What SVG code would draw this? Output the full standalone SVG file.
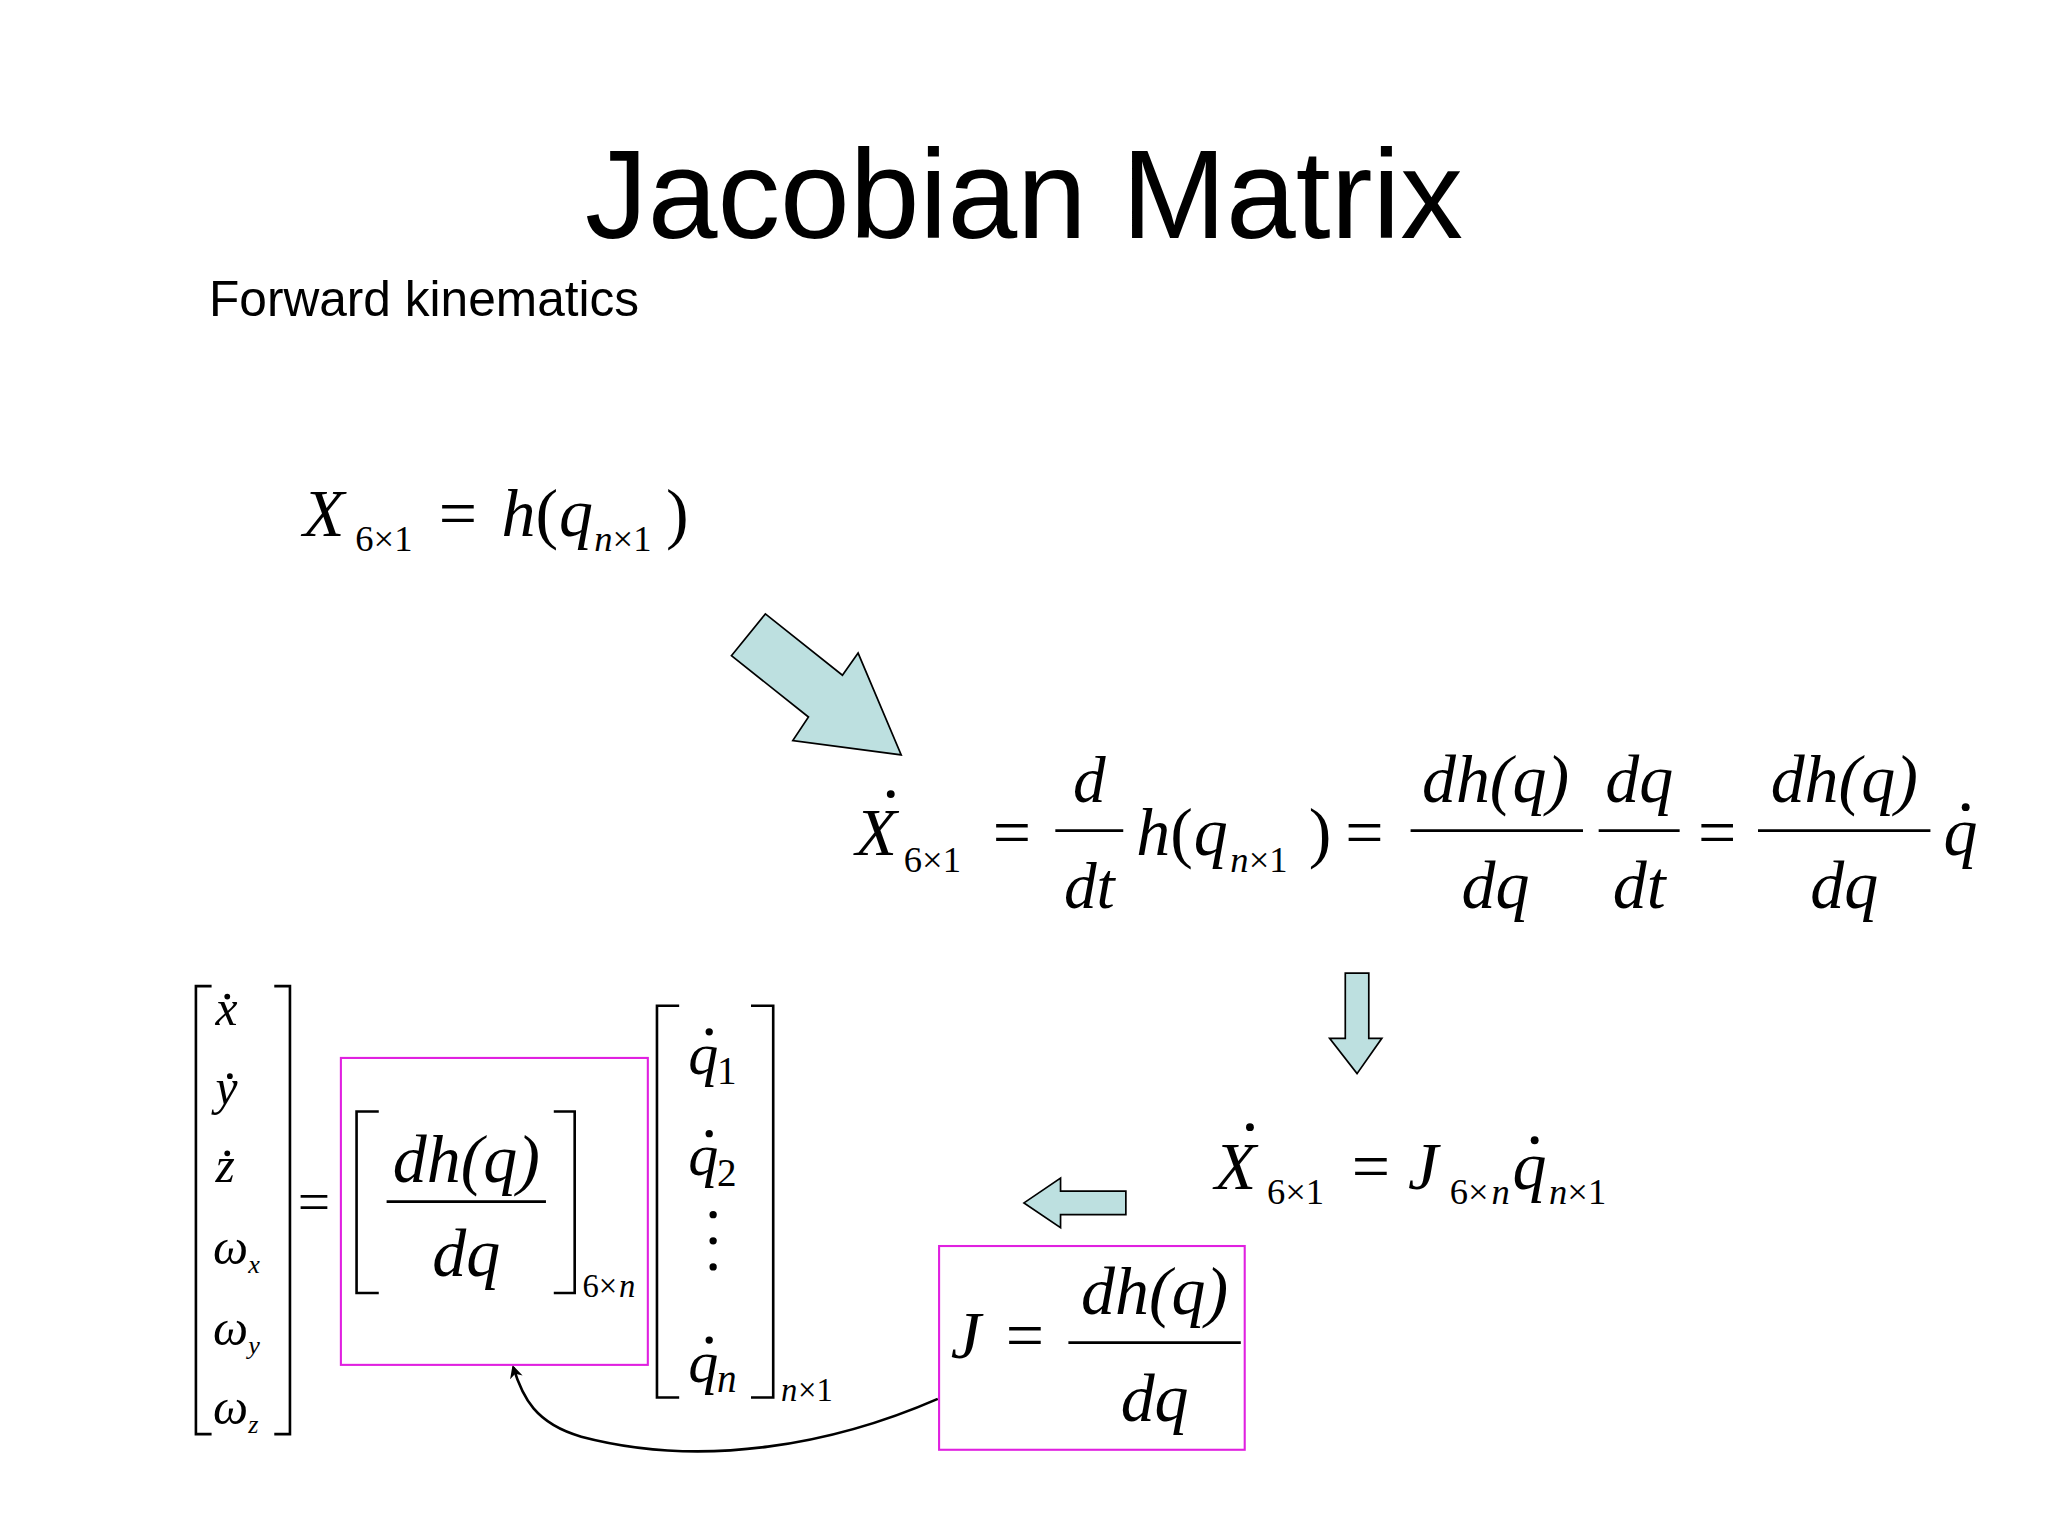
<svg xmlns="http://www.w3.org/2000/svg" width="2048" height="1536" viewBox="0 0 2048 1536">
<style>
.m{font-family:"Liberation Serif","Times New Roman",serif;font-style:italic;fill:#000}
.r{font-family:"Liberation Serif","Times New Roman",serif;fill:#000}
.s{font-family:"Liberation Sans",Arial,sans-serif;fill:#000}
.b{fill:none;stroke:#000;stroke-width:2}
.bar{stroke:#000;stroke-width:2.2}
.box{fill:none;stroke:#e020e0;stroke-width:1.6}
.arr{fill:#bde0e0;stroke:#000;stroke-width:1.3}
</style>
<defs><marker id="ah" markerWidth="10" markerHeight="10" refX="8" refY="5" orient="auto" markerUnits="userSpaceOnUse"><path d="M0,0 L10,5 L0,10 L3,5 Z" fill="#000"/></marker></defs>
<rect width="2048" height="1536" fill="#fff"/>
<g transform="scale(1.3061)">
<g id="title"><text x="784" y="182" text-anchor="middle" class="s" font-size="96">Jacobian Matrix</text>
<text x="160" y="242" class="s" font-size="38">Forward kinematics</text></g>
<g id="eq1">
<text x="232" y="410" class="m" font-size="52">X</text><text x="272" y="422" class="r" font-size="28">6×1</text>
<text x="336" y="410" class="r" font-size="52">=</text>
<text x="384" y="410" class="m" font-size="52">h</text><text x="410" y="410" class="r" font-size="52">(</text><text x="428" y="410" class="m" font-size="52">q</text>
<text x="455" y="422" class="m" font-size="28">n</text><text x="469" y="422" class="r" font-size="28">×1</text><text x="510" y="410" class="r" font-size="52">)</text>
</g>
<g id="connectors">
<polygon class="arr" points="560,502 586,470 645,517 657,500 690,578 607,567 619,549"/>
<polygon class="arr" points="1030,745 1048,745 1048,795 1058,795 1039,822 1018,795 1030,795"/>
<polygon class="arr" points="862,912 862,930 812,930 812,940 784,921 812,902 812,912"/>
<path class="b" d="M718,1071 C640,1105 540,1125 445,1100 C410,1090 400,1070 393,1047" marker-end="url(#ah)"/>
</g>
<g id="eq2">
<text x="655" y="655" class="m" font-size="52">X</text><circle cx="682" cy="608" r="3"/>
<text x="692" y="668" class="r" font-size="28">6×1</text>
<text x="760" y="655" class="r" font-size="52">=</text>
<text x="834" y="614" class="m" font-size="50" text-anchor="middle">d</text>
<line class="bar" x1="808" y1="636" x2="860" y2="636"/>
<text x="834" y="695" class="m" font-size="50" text-anchor="middle">dt</text>
<text x="870" y="655" class="m" font-size="52">h</text><text x="896" y="655" class="r" font-size="52">(</text><text x="914" y="655" class="m" font-size="52">q</text>
<text x="942" y="668" class="m" font-size="28">n</text><text x="956" y="668" class="r" font-size="28">×1</text><text x="1002" y="655" class="r" font-size="52">)</text>
<text x="1030" y="655" class="r" font-size="52">=</text>
<text x="1145" y="614" class="m" font-size="52" text-anchor="middle">dh(q)</text>
<line class="bar" x1="1080" y1="636" x2="1212" y2="636"/>
<text x="1145" y="695" class="m" font-size="52" text-anchor="middle">dq</text>
<text x="1255" y="614" class="m" font-size="52" text-anchor="middle">dq</text>
<line class="bar" x1="1224" y1="636" x2="1286" y2="636"/>
<text x="1255" y="695" class="m" font-size="52" text-anchor="middle">dt</text>
<text x="1300" y="655" class="r" font-size="52">=</text>
<text x="1412" y="614" class="m" font-size="52" text-anchor="middle">dh(q)</text>
<line class="bar" x1="1346" y1="636" x2="1478" y2="636"/>
<text x="1412" y="695" class="m" font-size="52" text-anchor="middle">dq</text>
<text x="1488" y="655" class="m" font-size="52">q</text><circle cx="1505" cy="618" r="3"/>
</g>
<g id="eq3">
<text x="930" y="910" class="m" font-size="52">X</text><circle cx="957" cy="863" r="3"/>
<text x="970" y="922" class="r" font-size="28">6×1</text>
<text x="1035" y="910" class="r" font-size="52">=</text>
<text x="1078" y="910" class="m" font-size="52">J</text>
<text x="1110" y="922" class="r" font-size="28">6×</text><text x="1142" y="922" class="m" font-size="28">n</text>
<text x="1158" y="910" class="m" font-size="52">q</text><circle cx="1175" cy="873" r="3"/>
<text x="1186" y="922" class="m" font-size="28">n</text><text x="1200" y="922" class="r" font-size="28">×1</text>
</g>
<g id="jbox">
<rect class="box" x="719" y="954" width="234" height="156"/>
<text x="728" y="1040" class="m" font-size="52">J</text>
<text x="770" y="1040" class="r" font-size="52">=</text>
<text x="884" y="1006" class="m" font-size="52" text-anchor="middle">dh(q)</text>
<line class="bar" x1="818" y1="1028" x2="950" y2="1028"/>
<text x="884" y="1088" class="m" font-size="52" text-anchor="middle">dq</text>
</g>
<g id="matrix">
<path class="b" d="M162,755 H150 V1098 H162 M210,755 H222 V1098 H210"/>
<text x="165" y="785" class="m" font-size="38">x</text><circle cx="174" cy="763" r="2.2"/>
<text x="165" y="845" class="m" font-size="38">y</text><circle cx="176" cy="824" r="2.2"/>
<text x="165" y="905" class="m" font-size="38">z</text><circle cx="174" cy="883" r="2.2"/>
<text x="163" y="968" class="m" font-size="38">ω</text><text x="190" y="975" class="m" font-size="20">x</text>
<text x="163" y="1030" class="m" font-size="38">ω</text><text x="190" y="1037" class="m" font-size="20">y</text>
<text x="163" y="1090" class="m" font-size="38">ω</text><text x="190" y="1097" class="m" font-size="20">z</text>
<text x="228" y="935" class="r" font-size="44">=</text>
</g>
<g id="dhbox">
<rect class="box" x="261" y="810" width="235" height="235"/>
<path class="b" d="M290,851 H273 V990 H290 M424,851 H440 V990 H424" stroke-width="2.5"/>
<text x="357" y="905" class="m" font-size="52" text-anchor="middle">dh(q)</text>
<line class="bar" x1="296" y1="920" x2="418" y2="920"/>
<text x="357" y="977" class="m" font-size="52" text-anchor="middle">dq</text>
<text x="446" y="993" class="r" font-size="25">6×</text><text x="474" y="993" class="m" font-size="25">n</text>
</g>
<g id="qvec">
<path class="b" d="M520,770 H503 V1070 H520 M575,770 H592 V1070 H575" stroke-width="2.5"/>
<text x="527" y="822" class="m" font-size="46">q</text><circle cx="543" cy="790" r="2.8"/><text x="549" y="830" class="r" font-size="30">1</text>
<text x="527" y="900" class="m" font-size="46">q</text><circle cx="543" cy="868" r="2.8"/><text x="549" y="908" class="r" font-size="30">2</text>
<circle cx="546" cy="930" r="2.8"/><circle cx="546" cy="950" r="2.8"/><circle cx="546" cy="970" r="2.8"/>
<text x="527" y="1058" class="m" font-size="46">q</text><circle cx="543" cy="1026" r="2.8"/><text x="549" y="1066" class="m" font-size="30">n</text>
<text x="598" y="1073" class="m" font-size="25">n</text><text x="611" y="1073" class="r" font-size="25">×1</text>
</g>
</g>
</svg>
